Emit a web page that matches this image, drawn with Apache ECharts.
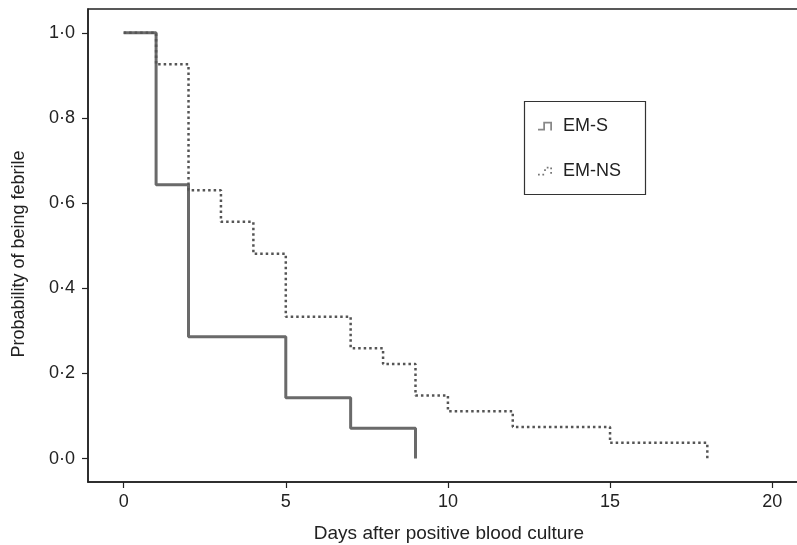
<!DOCTYPE html>
<html><head><meta charset="utf-8">
<script src="https://cdn.jsdelivr.net/npm/echarts@6/dist/echarts.min.js"></script>
<style>html,body{margin:0;padding:0;background:#fff}#c{width:797px;height:545px}</style>
</head><body><div id="c"></div>
<script>
const seriesNames = ['EM-S', 'EM-NS'];
const emsDays = [0, 1, 2, 5, 7, 9];
const emsProb = [1.0, 0.643, 0.286, 0.143, 0.071, 0.0];
const emnsDays = [0, 1, 2, 3, 4, 5, 7, 8, 9, 10, 12, 15, 18];
const emnsProb = [1.0, 0.926, 0.630, 0.556, 0.481, 0.333, 0.259, 0.222, 0.148, 0.111, 0.074, 0.037, 0.0];
const xTicks = [0, 5, 10, 15, 20];
const yTicks = [0, 0.2, 0.4, 0.6, 0.8, 1.0];
const xTitle = 'Days after positive blood culture';
const yTitle = 'Probability of being febrile';

const font = 'Liberation Sans, Arial, sans-serif';
const pair = (xs, ys) => xs.map((x, i) => [x, ys[i]]);
const chart = echarts.init(document.getElementById('c'), null, {renderer: 'canvas'});
chart.setOption({
  animation: false,
  backgroundColor: '#fff',
  grid: {left: 88, top: 9, right: -5, bottom: 63, show: true, borderColor: '#222', borderWidth: 1.5,
    containLabel: false, outerBoundsMode: 'none'},
  xAxis: {
    type: 'value', min: -1.1, max: 20.92,
    name: xTitle, nameLocation: 'middle', nameGap: 42,
    nameTextStyle: {fontFamily: font, fontSize: 19, color: '#222', padding: [0, 0, 0, 8]},
    axisLine: {show: true, onZero: false, lineStyle: {color: '#222', width: 1.5}},
    axisTick: {show: true, length: 6, customValues: xTicks, lineStyle: {color: '#222', width: 1.2}},
    axisLabel: {customValues: xTicks, margin: 11, fontFamily: font, fontSize: 18, color: '#222'},
    splitLine: {show: false}
  },
  yAxis: {
    type: 'value', min: -0.055, max: 1.056,
    name: yTitle, nameLocation: 'middle', nameGap: 60,
    nameTextStyle: {fontFamily: font, fontSize: 18, color: '#222', padding: [0, 17, 0, 0]},
    axisLine: {show: true, onZero: false, lineStyle: {color: '#222', width: 1.5}},
    axisTick: {show: true, length: 6, customValues: yTicks, lineStyle: {color: '#222', width: 1.2}},
    axisLabel: {customValues: yTicks, margin: 13, fontFamily: font, fontSize: 18, color: '#222',
      formatter: v => v.toFixed(1).replace('.', '\u00B7')},
    splitLine: {show: false}
  },
  legend: {
    orient: 'vertical', left: 533, top: 112, itemGap: 27, itemWidth: 14, itemHeight: 9,
    textStyle: {fontFamily: font, fontSize: 18, color: '#222', padding: [0, 0, 0, 6]},
    data: [
      {name: seriesNames[0], icon: 'path://M0,8 L6,8 L6,0 L16,0 L16,10 L14,10 L14,2 L8,2 L8,10 L0,10 Z', itemStyle: {color: '#888'}},
      {name: seriesNames[1], icon: 'path://M0,9 h2 v2 h-2 Z M5,9 h2 v2 h-2 Z M7,4 h2 v2 h-2 Z M10,1 h2 v2 h-2 Z M14,2 h2 v2 h-2 Z M14,7 h2 v2 h-2 Z', itemStyle: {color: '#777'}}
    ]
  },
  graphic: [{type: 'rect', left: 522, top: 99, shape: {width: 121, height: 93},
    style: {fill: 'none', stroke: '#333', lineWidth: 1.2}, z: 10}],
  series: [
    {name: seriesNames[0], type: 'line', step: 'end', data: pair(emsDays, emsProb), symbol: 'none',
      color: '#6a6a6a', lineStyle: {color: '#6a6a6a', width: 3}, z: 2},
    {name: seriesNames[1], type: 'line', step: 'end', data: pair(emnsDays, emnsProb), symbol: 'none',
      color: '#555', lineStyle: {color: '#555', width: 2.5, type: [2.5, 3]}, z: 3}
  ]
});
</script></body></html>
